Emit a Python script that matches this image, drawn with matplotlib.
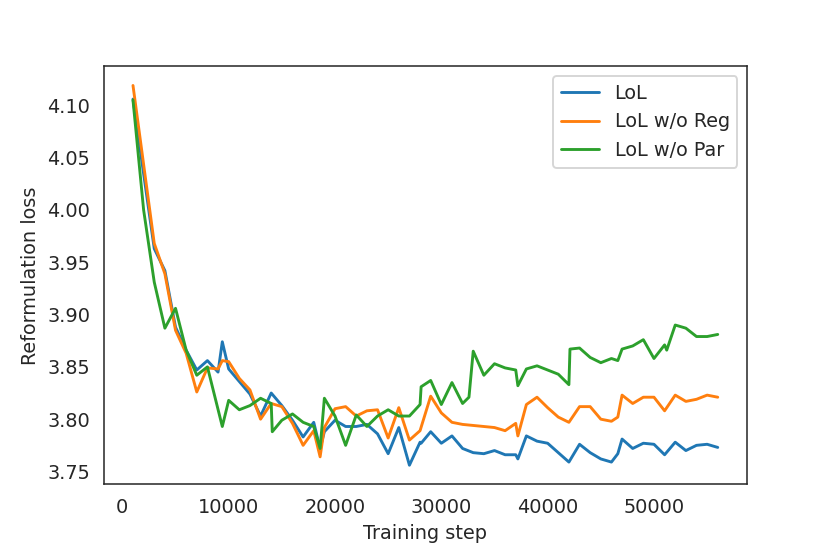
import matplotlib
matplotlib.use("Agg")
import matplotlib.pyplot as plt
import seaborn as sns

# ---- data ----
lol_steps = [1000, 3000, 4000, 5000, 6000, 7000, 8000, 9000, 9400, 10000,
             11000, 12000, 13000, 14000, 15000, 16000, 17000, 18000, 18600, 19000,
             20000, 21000, 22000, 23000, 24000, 25000, 26000, 27000, 28000, 28100,
             29000, 30000, 31000, 32000, 33000, 34000, 35000, 36000, 37000, 37200,
             38000, 39000, 40000, 41000, 42000, 43000, 44000, 45000, 46000, 46600,
             47000, 48000, 49000, 50000, 51000, 52000, 53000, 54000, 55000, 56000]
lol_loss = [4.106, 3.963, 3.942, 3.888, 3.866, 3.847, 3.856, 3.845, 3.874, 3.848,
            3.836, 3.824, 3.803, 3.825, 3.813, 3.799, 3.783, 3.797, 3.772, 3.788,
            3.799, 3.793, 3.793, 3.795, 3.786, 3.767, 3.792, 3.756, 3.778, 3.777,
            3.788, 3.777, 3.784, 3.772, 3.768, 3.767, 3.770, 3.766, 3.766, 3.762,
            3.784, 3.779, 3.777, 3.768, 3.759, 3.776, 3.768, 3.762, 3.759, 3.767,
            3.781, 3.772, 3.777, 3.776, 3.766, 3.778, 3.770, 3.775, 3.776, 3.773]

noreg_steps = [1000, 3000, 4000, 5000, 6000, 7000, 8000, 9000, 9400, 10000,
               11000, 12000, 13000, 14000, 15000, 16000, 17000, 18000, 18600, 19000,
               20000, 21000, 22000, 23000, 24000, 25000, 26000, 27000, 28000, 29000,
               30000, 31000, 32000, 33000, 34000, 35000, 36000, 37000, 37200, 38000,
               39000, 40000, 41000, 42000, 43000, 44000, 45000, 46000, 46600, 47000,
               48000, 49000, 50000, 51000, 52000, 53000, 54000, 55000, 56000]
noreg_loss = [4.119, 3.968, 3.939, 3.885, 3.863, 3.826, 3.849, 3.848, 3.856, 3.855,
              3.839, 3.828, 3.800, 3.815, 3.812, 3.796, 3.775, 3.789, 3.764, 3.792,
              3.810, 3.812, 3.803, 3.808, 3.809, 3.782, 3.811, 3.780, 3.789, 3.822,
              3.806, 3.797, 3.795, 3.794, 3.793, 3.792, 3.789, 3.796, 3.784, 3.814,
              3.821, 3.811, 3.802, 3.797, 3.812, 3.812, 3.800, 3.798, 3.802, 3.823,
              3.815, 3.821, 3.821, 3.808, 3.823, 3.817, 3.819, 3.823, 3.821]

nopar_steps = [1000, 2000, 3000, 4000, 5000, 6000, 7000, 8000, 9400, 10000,
               11000, 12000, 13000, 14000, 14100, 15000, 16000, 17000, 18000, 18600,
               19000, 20000, 21000, 22000, 23000, 24000, 25000, 26000, 27000, 28000,
               28100, 29000, 30000, 31000, 32000, 32600, 33000, 34000, 35000, 36000,
               37000, 37200, 38000, 39000, 40000, 41000, 42000, 42100, 43000, 44000,
               45000, 46000, 46600, 47000, 48000, 49000, 50000, 51000, 51200, 52000,
               53000, 54000, 55000, 56000]
nopar_loss = [4.105, 4.000, 3.931, 3.887, 3.906, 3.866, 3.842, 3.850, 3.793, 3.818,
              3.809, 3.813, 3.820, 3.815, 3.788, 3.799, 3.805, 3.797, 3.793, 3.772,
              3.820, 3.803, 3.775, 3.804, 3.793, 3.803, 3.809, 3.803, 3.803, 3.814,
              3.831, 3.837, 3.814, 3.835, 3.815, 3.821, 3.865, 3.842, 3.853, 3.849,
              3.847, 3.832, 3.848, 3.851, 3.847, 3.843, 3.833, 3.867, 3.868, 3.859,
              3.854, 3.858, 3.856, 3.867, 3.870, 3.876, 3.858, 3.871, 3.866, 3.890,
              3.887, 3.879, 3.879, 3.881]

labels = ["LoL", "LoL w/o Reg", "LoL w/o Par"]
colors = ["#1f77b4", "#ff7f0e", "#2ca02c"]

# ---- plot ----
sns.set_style("white")
plt.rcParams["font.family"] = ["DejaVu Sans"]

dpi = 138.33
fig, ax = plt.subplots(figsize=(830 / dpi, 554 / dpi), dpi=dpi)
fig.subplots_adjust(left=0.125, right=0.9, top=0.88, bottom=0.126)

ax.plot(lol_steps, lol_loss, color=colors[0], label=labels[0], linewidth=1.5)
ax.plot(noreg_steps, noreg_loss, color=colors[1], label=labels[1], linewidth=1.5)
ax.plot(nopar_steps, nopar_loss, color=colors[2], label=labels[2], linewidth=1.5)

ax.set_yticks([3.75, 3.80, 3.85, 3.90, 3.95, 4.00, 4.05, 4.10])
ax.set_yticklabels(["3.75", "3.80", "3.85", "3.90", "3.95", "4.00", "4.05", "4.10"])
ax.set_xticks([0, 10000, 20000, 30000, 40000, 50000])

ax.set_xlabel("Training step")
ax.set_ylabel("Reformulation loss")
ax.legend(loc="upper right")

fig.savefig("out.png", dpi=dpi)
